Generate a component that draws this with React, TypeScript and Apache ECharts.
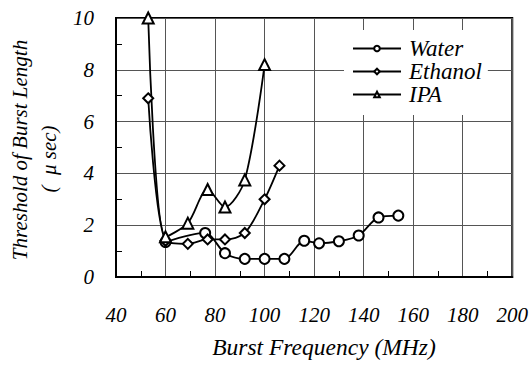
import React, { useEffect, useRef } from "react";
import * as echarts from "echarts";

const waterFreq = [60, 76, 84, 92, 100, 108, 116, 122, 130, 138, 146, 154];
const waterVal = [1.35, 1.7, 0.92, 0.7, 0.7, 0.7, 1.4, 1.3, 1.38, 1.6, 2.3, 2.37];
const ethanolFreq = [53, 60, 69, 77, 84, 92, 100, 106];
const ethanolVal = [6.9, 1.4, 1.28, 1.45, 1.45, 1.7, 3.0, 4.3];
const ipaFreq = [53, 60, 69, 77, 84, 92, 100];
const ipaVal = [10, 1.55, 2.08, 3.38, 2.7, 3.75, 8.2];

const seriesNames = ["Water", "Ethanol", "IPA"];
const xTitle = "Burst Frequency (MHz)";
const yTitle1 = "Threshold of Burst Length";
const yTitle2 = "(  \u03bc sec)";

const FONT = "Liberation Serif";

function pairs(xs: number[], ys: number[]) {
  return xs.map((x, i) => [x, ys[i]]);
}

export default function App() {
  const ref = useRef<HTMLDivElement>(null);
  useEffect(() => {
    const chart = echarts.init(ref.current!, null, { renderer: "svg" });
    const lineSeries = (name: string, data: number[][], symbol: string, size: number) => ({
      name,
      type: "line",
      data,
      smooth: 0.3,
      symbol,
      symbolSize: size,
      showSymbol: true,
      lineStyle: { color: "#000", width: 1.8 },
      itemStyle: { color: "#000", borderColor: "#000", borderWidth: 1.6 },
    });
    const txt = { fontFamily: FONT, fontStyle: "italic", fontSize: 21, color: "#000" };
    const rotText = (text: string, x: number, y: number, size: number, rotation: number) => ({
      type: "text",
      x,
      y,
      rotation,
      style: {
        text,
        fontFamily: FONT,
        fontStyle: "italic",
        fontSize: size,
        fill: "#000",
        align: "center",
        verticalAlign: "middle",
      },
    });
    chart.setOption({
      animation: false,
      backgroundColor: "#fff",
      grid: {
        left: 116,
        right: 18,
        top: 18,
        bottom: 88,
        show: true,
        borderColor: "#000",
        borderWidth: 2,
        backgroundColor: "transparent",
      },
      xAxis: {
        type: "value",
        min: 40,
        max: 200,
        interval: 20,
        axisLine: { show: true, lineStyle: { color: "#000", width: 2 } },
        axisTick: { show: false, inside: true },
        minorTick: { show: true, splitNumber: 2, length: 6, lineStyle: { color: "#000", width: 1 } },
        splitLine: { show: true, lineStyle: { color: "#555", width: 1 } },
        axisLabel: { ...txt, margin: 27 },
      },
      yAxis: {
        type: "value",
        min: 0,
        max: 10,
        interval: 2,
        axisLine: { show: true, lineStyle: { color: "#000", width: 2 } },
        axisTick: { show: false, inside: true },
        minorTick: { show: true, splitNumber: 2, length: 6, lineStyle: { color: "#000", width: 1 } },
        splitLine: { show: true, lineStyle: { color: "#555", width: 1 } },
        axisLabel: { ...txt, margin: 22 },
      },
      legend: {
        orient: "vertical",
        left: 344,
        top: 30,
        backgroundColor: "#fff",
        padding: [7, 6, 9, 8],
        itemGap: 0,
        itemWidth: 48,
        itemHeight: 7,
        data: seriesNames,
        textStyle: {
          fontFamily: FONT,
          fontStyle: "italic",
          fontSize: 23,
          lineHeight: 23,
          color: "#000",
          padding: [0, 0, 0, 3],
        },
      },
      graphic: [
        rotText(yTitle1, 20, 150, 21, Math.PI / 2),
        rotText(yTitle2, 49, 159, 21, Math.PI / 2),
        rotText(xTitle, 324, 347, 23.5, 0),
      ],
      series: [
        lineSeries(seriesNames[0], pairs(waterFreq, waterVal), "emptyCircle", 10),
        lineSeries(seriesNames[1], pairs(ethanolFreq, ethanolVal), "emptyDiamond", 10),
        lineSeries(seriesNames[2], pairs(ipaFreq, ipaVal), "emptyTriangle", 11),
      ],
    });
    return () => chart.dispose();
  }, []);
  return <div ref={ref} style={{ width: 531, height: 365, position: "absolute", left: 0, top: 0 }} />;
}
